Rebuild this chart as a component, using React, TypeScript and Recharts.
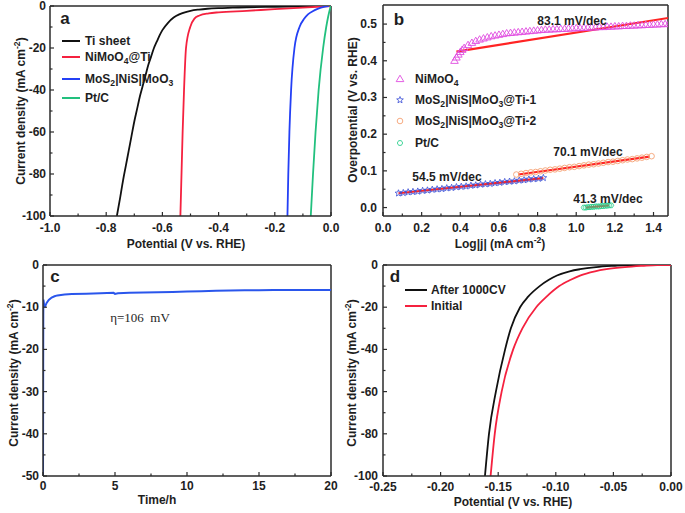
import React from "react";
import { LineChart, ComposedChart, Line, Scatter, XAxis, YAxis, ReferenceLine } from "recharts";

const FONT = "'Liberation Sans', Arial, Helvetica, sans-serif";
const AX = "#2b2b2b";
const XH = 30;
const YW = 36;

// (a) polarization curves: potential (V) / current density (mA cm-2)
const tiSheetV = [-0.762, -0.75, -0.74, -0.73, -0.72, -0.71, -0.7, -0.69, -0.68, -0.67, -0.66, -0.65, -0.64, -0.63, -0.62, -0.61, -0.6, -0.58, -0.56, -0.54, -0.52, -0.5, -0.47, -0.44, -0.4, -0.35, -0.3, -0.2, -0.1, 0];
const tiSheetJ = [-100, -91, -83, -76, -69, -62, -55, -49, -43, -38, -33, -28, -24, -20, -17, -14, -11.5, -8, -5.5, -4, -3, -2.3, -1.7, -1.3, -1, -0.8, -0.6, -0.4, -0.2, 0];
const nimoV = [-0.536, -0.532, -0.528, -0.523, -0.516, -0.501, -0.486, -0.468, -0.435, -0.4, -0.3, -0.2, -0.1, 0];
const nimoJ = [-100, -80, -60, -40, -20, -10, -6, -4.5, -3.5, -3, -2.3, -1.5, -0.8, 0];
const mosV = [-0.155, -0.152, -0.148, -0.142, -0.13, -0.112, -0.095, -0.082, -0.065, -0.05, -0.036, -0.022, -0.008];
const mosJ = [-100, -80, -60, -40, -20, -10, -6, -4, -2.5, -1.5, -0.8, -0.3, 0];
const ptcV = [-0.072, -0.064, -0.055, -0.044, -0.028, -0.017, -0.01, -0.001];
const ptcJ = [-100, -80, -60, -40, -20, -10, -5, 0];

// (b) Tafel plots: log|j| / overpotential (V)
const tafNiX = [0.37, 0.38, 0.39, 0.4, 0.41, 0.42, 0.44, 0.46, 0.48, 0.5, 0.52, 0.54, 0.56, 0.58, 0.6, 0.62, 0.64, 0.66, 0.68, 0.7, 0.72, 0.74, 0.76, 0.78, 0.8, 0.82, 0.84, 0.86, 0.88, 0.9, 0.92, 0.94, 0.96, 0.98, 1.0, 1.02, 1.04, 1.06, 1.08, 1.1, 1.12, 1.14, 1.16, 1.18, 1.2, 1.22, 1.24, 1.26, 1.28, 1.3, 1.32, 1.34, 1.36, 1.38, 1.4, 1.42, 1.44, 1.46, 1.48];
const tafNiY = [0.4, 0.409, 0.417, 0.424, 0.43, 0.435, 0.443, 0.449, 0.454, 0.458, 0.461, 0.464, 0.467, 0.469, 0.471, 0.473, 0.475, 0.476, 0.477, 0.478, 0.479, 0.48, 0.481, 0.482, 0.483, 0.484, 0.485, 0.485, 0.486, 0.486, 0.487, 0.487, 0.488, 0.488, 0.489, 0.489, 0.49, 0.49, 0.491, 0.491, 0.492, 0.492, 0.493, 0.493, 0.494, 0.494, 0.495, 0.495, 0.496, 0.496, 0.497, 0.497, 0.498, 0.498, 0.499, 0.499, 0.5, 0.5, 0.501];
const tafT1X = [0.08, 0.105, 0.13, 0.155, 0.18, 0.205, 0.23, 0.255, 0.28, 0.305, 0.33, 0.355, 0.38, 0.405, 0.43, 0.455, 0.48, 0.505, 0.53, 0.555, 0.58, 0.605, 0.63, 0.655, 0.68, 0.705, 0.73, 0.755, 0.78, 0.805, 0.83];
const tafT1Y = [0.039, 0.04, 0.042, 0.043, 0.044, 0.046, 0.047, 0.049, 0.05, 0.051, 0.053, 0.054, 0.056, 0.057, 0.058, 0.06, 0.061, 0.063, 0.064, 0.065, 0.067, 0.068, 0.07, 0.071, 0.072, 0.074, 0.075, 0.077, 0.078, 0.079, 0.081];
const tafT2X = [0.69, 0.715, 0.74, 0.765, 0.79, 0.815, 0.84, 0.865, 0.89, 0.915, 0.94, 0.965, 0.99, 1.015, 1.04, 1.065, 1.09, 1.115, 1.14, 1.165, 1.19, 1.215, 1.24, 1.265, 1.29, 1.315, 1.34, 1.365, 1.39];
const tafT2Y = [0.09, 0.092, 0.094, 0.096, 0.097, 0.099, 0.101, 0.103, 0.104, 0.106, 0.108, 0.11, 0.111, 0.113, 0.115, 0.117, 0.118, 0.12, 0.122, 0.124, 0.125, 0.127, 0.129, 0.131, 0.132, 0.134, 0.136, 0.138, 0.14];
const tafPtX = [1.04, 1.05, 1.06, 1.07, 1.08, 1.09, 1.1, 1.11, 1.12, 1.13, 1.14, 1.15, 1.16, 1.17, 1.18];
const tafPtY = [0.0, 0.0, 0.001, 0.001, 0.002, 0.002, 0.003, 0.003, 0.003, 0.004, 0.004, 0.005, 0.005, 0.006, 0.006];
const fitNiX = [0.38, 1.48];
const fitNiY = [0.425, 0.517];
const fitT1X = [0.08, 0.83];
const fitT1Y = [0.039, 0.08];
const fitT2X = [0.7, 1.38];
const fitT2Y = [0.09, 0.139];
const fitPtX = [1.05, 1.17];
const fitPtY = [0.0, 0.006];

// (c) chronoamperometry: time (h) / current density
const timeH = [0, 0.01, 0.02, 0.03, 0.08, 0.15, 0.25, 0.4, 0.6, 0.8, 1, 1.5, 2, 3, 4, 4.9, 5, 5.2, 6, 7, 8, 9, 10, 11, 12, 13, 14, 15, 16, 17, 18, 19, 20];
const stabJ = [-50, -30, -12, -8.2, -9.5, -9.8, -9, -8.3, -7.7, -7.4, -7.2, -7, -6.9, -6.8, -6.7, -6.6, -6.85, -6.7, -6.6, -6.5, -6.45, -6.4, -6.3, -6.2, -6.1, -6.05, -6, -6, -5.95, -5.95, -5.9, -5.9, -5.9];

// (d) before / after 1000 CV cycles
const afterV = [-0.1615, -0.158, -0.152, -0.144, -0.139, -0.131, -0.124, -0.114, -0.106, -0.099, -0.088, -0.079, -0.065, -0.05, -0.035, 0];
const afterJ = [-100, -80, -60, -40, -30, -20, -15, -10, -7, -5, -3, -2, -1, -0.4, 0, 0];
const initV = [-0.1566, -0.153, -0.147, -0.137, -0.129, -0.117, -0.108, -0.097, -0.087, -0.079, -0.066, -0.056, -0.04, -0.025, -0.012, 0];
const initJ = [-100, -80, -60, -40, -30, -20, -15, -10, -7, -5, -3, -2, -1, -0.4, 0, 0];

const pts = (xs: number[], ys: number[]) => xs.map((x, i) => ({ x, y: ys[i] }));

function makeTick(axis: "x" | "y", majors: number[], fmt: (v: number) => string, gap: number) {
  return (props: any) => {
    const { x, y, payload } = props;
    const v = payload.value;
    const major = majors.some((m) => Math.abs(m - v) < 1e-9);
    const len = major ? 4 : 2.5;
    const txt = { fontFamily: FONT, fontWeight: 700, fontSize: 12, fill: "#1e1e1e" };
    if (axis === "x") {
      return (
        <g>
          <line x1={x} y1={y} x2={x} y2={y - len} stroke={AX} strokeWidth={1.2} />
          {major && <text x={x} y={y + gap} textAnchor="middle" {...txt}>{fmt(v)}</text>}
        </g>
      );
    }
    return (
      <g>
        <line x1={x} y1={y} x2={x + len} y2={y} stroke={AX} strokeWidth={1.2} />
        {major && <text x={x - gap} y={y + 4} textAnchor="end" {...txt}>{fmt(v)}</text>}
      </g>
    );
  };
}

interface AxesOpts {
  xDomain: [number, number];
  yDomain: [number, number];
  xTicks: number[];
  yTicks: number[];
  xMajors: number[];
  yMajors: number[];
  xFmt: (v: number) => string;
  yFmt: (v: number) => string;
  xGap: number;
  yGap: number;
}

const renderAxes = (o: AxesOpts) => [
  <XAxis key="x" dataKey="x" type="number" domain={o.xDomain} allowDataOverflow ticks={o.xTicks} interval={0}
    height={XH} tickSize={0} tickMargin={0} tickLine={false} axisLine={{ stroke: AX, strokeWidth: 1.5 }}
    tick={makeTick("x", o.xMajors, o.xFmt, o.xGap)} />,
  <YAxis key="y" type="number" domain={o.yDomain} allowDataOverflow ticks={o.yTicks} interval={0}
    width={YW} tickSize={0} tickMargin={0} tickLine={false} axisLine={{ stroke: AX, strokeWidth: 1.5 }}
    tick={makeTick("y", o.yMajors, o.yFmt, o.yGap)} />,
  <ReferenceLine key="top" y={o.yDomain[1]} stroke={AX} strokeWidth={1.5} ifOverflow="visible" />,
  <ReferenceLine key="right" x={o.xDomain[1]} stroke={AX} strokeWidth={1.5} ifOverflow="visible" />,
];

const jMajors = [-100, -80, -60, -40, -20, 0];
const jTicks = [-100, -90, -80, -70, -60, -50, -40, -30, -20, -10, 0];

function PanelA() {
  const lines = [
    { d: pts(tiSheetV, tiSheetJ), c: "#111111" },
    { d: pts(nimoV, nimoJ), c: "#f5213f" },
    { d: pts(mosV, mosJ), c: "#2440f5" },
    { d: pts(ptcV, ptcJ), c: "#22c07e" },
  ];
  return (
    <LineChart width={345} height={256} margin={{ top: 6, left: 50 - YW, right: 14, bottom: 40 - XH }}>
      {renderAxes({
        xDomain: [-1, 0], yDomain: [-100, 0],
        xTicks: [-1, -0.9, -0.8, -0.7, -0.6, -0.5, -0.4, -0.3, -0.2, -0.1, 0],
        xMajors: [-1, -0.8, -0.6, -0.4, -0.2, 0],
        yTicks: jTicks, yMajors: jMajors,
        xFmt: (v) => v.toFixed(1), yFmt: (v) => String(v), xGap: 16, yGap: 4,
      })}
      {lines.map((l, i) => (
        <Line key={i} data={l.d} dataKey="y" type="monotone" stroke={l.c} strokeWidth={1.8} dot={false} isAnimationActive={false} />
      ))}
    </LineChart>
  );
}

const triShape = (p: any) => (
  <polygon points={`${p.cx},${p.cy - 3.8} ${p.cx - 3.8},${p.cy + 2.6} ${p.cx + 3.8},${p.cy + 2.6}`} fill="none" stroke="#e04ce0" strokeWidth={0.9} />
);
const starPath = (cx: number, cy: number, ro: number, ri: number) => {
  const p: string[] = [];
  for (let k = 0; k < 10; k++) {
    const r = k % 2 === 0 ? ro : ri;
    const a = -Math.PI / 2 + (k * Math.PI) / 5;
    p.push(`${(cx + r * Math.cos(a)).toFixed(2)},${(cy + r * Math.sin(a)).toFixed(2)}`);
  }
  return p.join(" ");
};
const starShape = (p: any) => <polygon points={starPath(p.cx, p.cy, 3.5, 1.5)} fill="none" stroke="#3a4ed6" strokeWidth={0.8} />;
const circShape = (p: any) => <circle cx={p.cx} cy={p.cy} r={2.8} fill="none" stroke="#f5a274" strokeWidth={0.9} />;
const hexPath = (cx: number, cy: number, r: number) => {
  const p: string[] = [];
  for (let k = 0; k < 6; k++) {
    const a = (k * Math.PI) / 3;
    p.push(`${(cx + r * Math.cos(a)).toFixed(2)},${(cy + r * Math.sin(a)).toFixed(2)}`);
  }
  return p.join(" ");
};
const hexShape = (p: any) => <polygon points={hexPath(p.cx, p.cy, 2.7)} fill="none" stroke="#2fd08e" strokeWidth={0.9} />;

function PanelB() {
  const fits = [pts(fitNiX, fitNiY), pts(fitT1X, fitT1Y), pts(fitT2X, fitT2Y), pts(fitPtX, fitPtY)];
  return (
    <ComposedChart width={345} height={256} margin={{ top: 5, left: 43 - YW, right: 17, bottom: 40 - XH }}>
      {renderAxes({
        xDomain: [0, 1.475], yDomain: [-0.023, 0.552],
        xTicks: [0, 0.1, 0.2, 0.3, 0.4, 0.5, 0.6, 0.7, 0.8, 0.9, 1.0, 1.1, 1.2, 1.3, 1.4],
        xMajors: [0, 0.2, 0.4, 0.6, 0.8, 1.0, 1.2, 1.4],
        yTicks: [0, 0.05, 0.1, 0.15, 0.2, 0.25, 0.3, 0.35, 0.4, 0.45, 0.5],
        yMajors: [0, 0.1, 0.2, 0.3, 0.4, 0.5],
        xFmt: (v) => v.toFixed(1), yFmt: (v) => v.toFixed(1), xGap: 16, yGap: 6,
      })}
      <Scatter data={pts(tafNiX, tafNiY)} dataKey="y" shape={triShape} isAnimationActive={false} />
      <Scatter data={pts(tafT1X, tafT1Y)} dataKey="y" shape={starShape} isAnimationActive={false} />
      <Scatter data={pts(tafT2X, tafT2Y)} dataKey="y" shape={circShape} isAnimationActive={false} />
      <Scatter data={pts(tafPtX, tafPtY)} dataKey="y" shape={hexShape} isAnimationActive={false} />
      {fits.map((d, i) => (
        <Line key={i} data={d} dataKey="y" type="linear" stroke="#ff2424" strokeWidth={2.2} dot={false} isAnimationActive={false} />
      ))}
    </ComposedChart>
  );
}

function PanelC() {
  return (
    <LineChart width={345} height={257} margin={{ top: 9, left: 43 - YW, right: 14, bottom: 37 - XH }}>
      {renderAxes({
        xDomain: [0, 20], yDomain: [-50, 0],
        xTicks: [0, 2.5, 5, 7.5, 10, 12.5, 15, 17.5, 20], xMajors: [0, 5, 10, 15, 20],
        yTicks: [-50, -45, -40, -35, -30, -25, -20, -15, -10, -5, 0], yMajors: [-50, -40, -30, -20, -10, 0],
        xFmt: (v) => String(v), yFmt: (v) => String(v), xGap: 14, yGap: 4,
      })}
      <Line data={pts(timeH, stabJ)} dataKey="y" type="linear" stroke="#2a56ec" strokeWidth={2} dot={false} isAnimationActive={false} />
    </LineChart>
  );
}

function PanelD() {
  return (
    <LineChart width={345} height={257} margin={{ top: 9, left: 43 - YW, right: 14, bottom: 37 - XH }}>
      {renderAxes({
        xDomain: [-0.25, 0], yDomain: [-100, 0],
        xTicks: [-0.25, -0.225, -0.2, -0.175, -0.15, -0.125, -0.1, -0.075, -0.05, -0.025, 0],
        xMajors: [-0.25, -0.2, -0.15, -0.1, -0.05, 0],
        yTicks: jTicks, yMajors: jMajors,
        xFmt: (v) => v.toFixed(2), yFmt: (v) => String(v), xGap: 15, yGap: 5,
      })}
      <Line data={pts(afterV, afterJ)} dataKey="y" type="monotone" stroke="#111111" strokeWidth={1.8} dot={false} isAnimationActive={false} />
      <Line data={pts(initV, initJ)} dataKey="y" type="monotone" stroke="#f5213f" strokeWidth={1.8} dot={false} isAnimationActive={false} />
    </LineChart>
  );
}

const baseTxt: React.CSSProperties = {
  position: "absolute", fontFamily: FONT, fontWeight: 700, fontSize: 12, color: "#1e1e1e",
  whiteSpace: "nowrap", lineHeight: "14px",
};
const subS: React.CSSProperties = { fontSize: "0.72em", verticalAlign: "-0.35em", lineHeight: 0 };
const supS: React.CSSProperties = { fontSize: "0.72em", verticalAlign: "0.55em", lineHeight: 0 };

function T({ x, y, children, center, rot, style }: { x: number; y: number; children: React.ReactNode; center?: boolean; rot?: boolean; style?: React.CSSProperties }) {
  const tf = rot ? "translate(-50%,-50%) rotate(-90deg)" : center ? "translate(-50%,-50%)" : "translate(0,-50%)";
  return <div style={{ ...baseTxt, left: x, top: y, transform: tf, ...style }}>{children}</div>;
}

const Seg = ({ x, y, w, c }: { x: number; y: number; w: number; c: string }) => (
  <div style={{ position: "absolute", left: x, top: y - 1, width: w, height: 2, background: c }} />
);

const Mark = ({ x, y, kind }: { x: number; y: number; kind: string }) => {
  const p = { cx: 6, cy: 6 };
  const shape = kind === "tri" ? triShape(p) : kind === "star" ? starShape(p) : kind === "circ" ? circShape(p) : hexShape(p);
  return (
    <svg width={12} height={12} style={{ position: "absolute", left: x - 6, top: y - 6 }}>{shape}</svg>
  );
};

const yTitle = <>Current density (mA cm<span style={supS}>-2</span>)</>;
const mos = <>MoS<span style={subS}>2</span>|NiS|MoO<span style={subS}>3</span></>;

export default function App() {
  return (
    <div style={{ position: "absolute", left: 0, top: 0, width: 685, height: 513, background: "#fff", overflow: "hidden" }}>
      <div style={{ position: "absolute", left: 0, top: 0 }}><PanelA /></div>
      <div style={{ position: "absolute", left: 340, top: 0 }}><PanelB /></div>
      <div style={{ position: "absolute", left: 0, top: 256 }}><PanelC /></div>
      <div style={{ position: "absolute", left: 340, top: 256 }}><PanelD /></div>

      {/* panel a */}
      <T x={65} y={19} center style={{ fontSize: 17 }}>a</T>
      <T x={21} y={111} rot>{yTitle}</T>
      <T x={186} y={244} center>Potential (V vs. RHE)</T>
      <Seg x={62} y={41} w={18} c="#111111" />
      <T x={85} y={41}>Ti sheet</T>
      <Seg x={62} y={57} w={18} c="#f5213f" />
      <T x={85} y={57}>NiMoO<span style={subS}>4</span>@Ti</T>
      <Seg x={62} y={79} w={18} c="#2440f5" />
      <T x={85} y={79}>{mos}</T>
      <Seg x={62} y={98} w={18} c="#22c07e" />
      <T x={85} y={98}>Pt/C</T>

      {/* panel b */}
      <T x={399} y={20} center style={{ fontSize: 17 }}>b</T>
      <T x={353} y={110} rot>Overpotential (V vs. RHE)</T>
      <T x={500} y={244} center>Log|j| (mA cm<span style={supS}>-2</span>)</T>
      <Mark x={400} y={79} kind="tri" />
      <T x={415} y={79}>NiMoO<span style={subS}>4</span></T>
      <Mark x={400} y={100} kind="star" />
      <T x={415} y={100}>{mos}@Ti-1</T>
      <Mark x={400} y={121} kind="circ" />
      <T x={415} y={121}>{mos}@Ti-2</T>
      <Mark x={400} y={143} kind="hex" />
      <T x={415} y={143}>Pt/C</T>
      <T x={572} y={21} center>83.1 mV/dec</T>
      <T x={588} y={152} center>70.1 mV/dec</T>
      <T x={447} y={177} center>54.5 mV/dec</T>
      <T x={608} y={199} center>41.3 mV/dec</T>

      {/* panel c */}
      <T x={55} y={277} center style={{ fontSize: 17 }}>c</T>
      <T x={14} y={373} rot>{yTitle}</T>
      <T x={157} y={500} center>Time/h</T>
      <T x={140} y={318} center style={{ fontFamily: "'Liberation Serif', 'DejaVu Serif', serif", fontWeight: 400, fontSize: 13 }}>η=106&nbsp;&nbsp;mV</T>

      {/* panel d */}
      <T x={395} y={277} center style={{ fontSize: 17 }}>d</T>
      <T x={352} y={373} rot>{yTitle}</T>
      <T x={513} y={502} center>Potential (V vs. RHE)</T>
      <Seg x={405} y={290} w={22} c="#111111" />
      <T x={431} y={290}>After 1000CV</T>
      <Seg x={405} y={306} w={22} c="#f5213f" />
      <T x={431} y={306}>Initial</T>
    </div>
  );
}
